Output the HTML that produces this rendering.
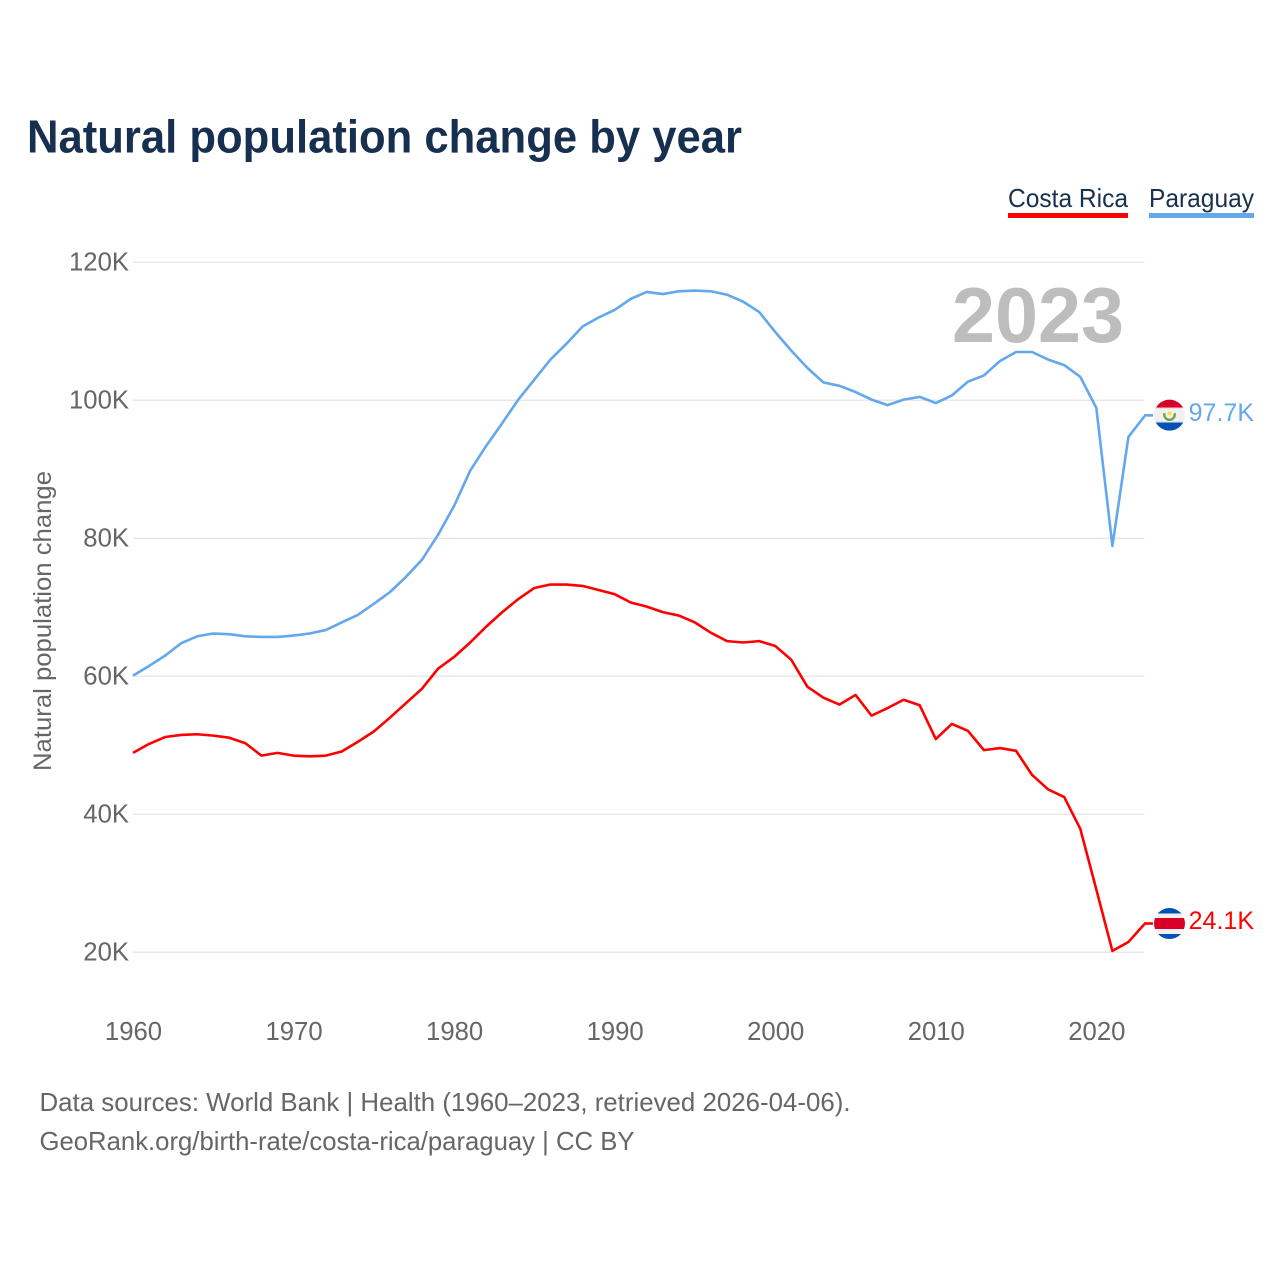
<!DOCTYPE html>
<html lang="en">
<head>
<meta charset="utf-8">
<title>Natural population change by year</title>
<style>
  html, body { margin: 0; padding: 0; background: #fff; }
  svg { display: block; font-family: "Liberation Sans", sans-serif; }
</style>
</head>
<body>
<svg id="chart" xmlns="http://www.w3.org/2000/svg" width="1280" height="1280" viewBox="0 0 1280 1280">
  <rect x="0" y="0" width="1280" height="1280" fill="#ffffff"/>
  <text x="27" y="152.5" font-size="46" font-weight="700" fill="#18304f" textLength="715" lengthAdjust="spacingAndGlyphs">Natural population change by year</text>

  <g>
    <text x="1008" y="207" font-size="26" fill="#18304f" textLength="120" lengthAdjust="spacingAndGlyphs">Costa Rica</text>
    <rect x="1008" y="213" width="120" height="5" fill="#ff0000"/>
  </g>
  <g>
    <text x="1149" y="207" font-size="26" fill="#18304f" textLength="105" lengthAdjust="spacingAndGlyphs">Paraguay</text>
    <rect x="1149" y="213" width="105" height="5" fill="#63a7ec"/>
  </g>

  <g id="grid"></g>
  <g id="yticks"></g>
  <g id="xticks"></g>

  <text transform="translate(51 621) rotate(-90)" text-anchor="middle" font-size="25" fill="#666666" textLength="300" lengthAdjust="spacingAndGlyphs">Natural population change</text>

  <text id="year-overlay" x="1124" y="342" text-anchor="end" font-size="78" font-weight="700" fill="#bdbdbd" textLength="172" lengthAdjust="spacingAndGlyphs">2023</text>

  <g id="series"></g>
  <g id="endmarks"></g>

  <text x="39.5" y="1111" font-size="26" fill="#666666" textLength="811" lengthAdjust="spacingAndGlyphs">Data sources: World Bank | Health (1960–2023, retrieved 2026-04-06).</text>
  <text x="39.5" y="1150" font-size="26" fill="#666666" textLength="595" lengthAdjust="spacingAndGlyphs">GeoRank.org/birth-rate/costa-rica/paraguay | CC BY</text>
</svg>

<script>
var firstYear = 1960;
var lastYear = 2023;
var yTickValues = [20, 40, 60, 80, 100, 120];
var yTickLabels = ["20K", "40K", "60K", "80K", "100K", "120K"];
var xTickYears = [1960, 1970, 1980, 1990, 2000, 2010, 2020];
var xTickLabels = ["1960", "1970", "1980", "1990", "2000", "2010", "2020"];

var costaRicaValues = [
  48.9, 50.2, 51.2, 51.5, 51.6, 51.4, 51.1, 50.3, 48.5, 48.9,
  48.5, 48.4, 48.5, 49.1, 50.5, 52.0, 54.0, 56.1, 58.2, 61.1,
  62.8, 64.9, 67.2, 69.3, 71.2, 72.8, 73.3, 73.3, 73.1, 72.5,
  71.9, 70.7, 70.1, 69.3, 68.8, 67.8, 66.3, 65.1, 64.9, 65.1,
  64.4, 62.4, 58.5, 56.9, 55.9, 57.3, 54.3, 55.4, 56.6, 55.8,
  50.9, 53.1, 52.1, 49.3, 49.6, 49.2, 45.7, 43.6, 42.5, 37.9,
  29.1, 20.2, 21.5, 24.1
];
var paraguayValues = [
  60.1, 61.5, 63.0, 64.8, 65.8, 66.2, 66.1, 65.8, 65.7, 65.7,
  65.9, 66.2, 66.7, 67.8, 68.9, 70.5, 72.2, 74.4, 76.9, 80.5,
  84.7, 89.8, 93.4, 96.7, 100.1, 103.0, 105.9, 108.2, 110.7, 112.0,
  113.1, 114.7, 115.7, 115.4, 115.8, 115.9, 115.8, 115.3, 114.3, 112.8,
  109.9, 107.2, 104.7, 102.6, 102.1, 101.2, 100.1, 99.3, 100.1, 100.5,
  99.6, 100.7, 102.7, 103.6, 105.7, 107.0, 107.0, 105.9, 105.1, 103.4,
  98.9, 78.9, 94.7, 97.7
];
var costaRicaEndLabel = "24.1K";
var paraguayEndLabel = "97.7K";

var NS = "http://www.w3.org/2000/svg";
var plotLeft = 133, plotRight = 1144.5;
var plotTop = 262.3, plotBottom = 952.3;

function xScale(year) {
  return plotLeft + (year - firstYear) * (plotRight - plotLeft) / (lastYear - firstYear);
}
function yScale(v) {
  return plotBottom - (v - 20) * (plotBottom - plotTop) / 100;
}
function make(tag, attrs, parent) {
  var el = document.createElementNS(NS, tag);
  for (var k in attrs) el.setAttribute(k, attrs[k]);
  parent.appendChild(el);
  return el;
}

var gridG = document.getElementById("grid");
var yG = document.getElementById("yticks");
yTickValues.forEach(function (v, i) {
  var line = make("line", { x1: plotLeft, x2: plotRight, y1: yScale(v), y2: yScale(v), stroke: "#e8e8e8", "stroke-width": 1.5 }, gridG);
  
  
  var t = make("text", { x: 129, y: yScale(v) + 8, "text-anchor": "end", "font-size": 25.7, fill: "#666666" }, yG);
  
  
  t.textContent = yTickLabels[i];
});

var xG = document.getElementById("xticks");
xTickYears.forEach(function (yr, i) {
  var t = make("text", { x: xScale(yr) + 0.5, y: 1040, "text-anchor": "middle", "font-size": 25.7, fill: "#666666" }, xG);
  
  
  t.textContent = xTickLabels[i];
});

function linePath(values) {
  return values.map(function (v, i) {
    return (i ? "L" : "M") + xScale(firstYear + i).toFixed(2) + " " + yScale(v).toFixed(2);
  }).join(" ");
}

var seriesG = document.getElementById("series");
var paraguayLine = make("path", { d: linePath(paraguayValues), fill: "none", stroke: "#63a7ec", "stroke-width": 2.6, "stroke-linejoin": "round" }, seriesG);


var costaRicaLine = make("path", { d: linePath(costaRicaValues), fill: "none", stroke: "#ff0000", "stroke-width": 2.6, "stroke-linejoin": "round" }, seriesG);



var endG = document.getElementById("endmarks");
var flagCx = 1169.5, flagR = 15.5;

function addClip(id, cy) {
  var clip = make("clipPath", { id: id }, endG);
  make("circle", { cx: flagCx, cy: cy, r: flagR }, clip);
}
function addBands(parent, clipId, top, bands) {
  var g = make("g", { "clip-path": "url(#" + clipId + ")" }, parent);
  var cursor = top;
  bands.forEach(function (b) {
    make("rect", { x: flagCx - flagR, y: cursor, width: flagR * 2, height: b[0], fill: b[1] }, g);
    cursor += b[0];
  });
  return g;
}

/* Paraguay end marker */
var pyY = yScale(paraguayValues[paraguayValues.length - 1]);
var pyConn = make("line", { x1: plotRight - 0.5, x2: 1153, y1: pyY - 0.8, y2: pyY - 0.8, stroke: "#63a7ec", "stroke-width": 2.6 }, endG);


addClip("py-clip", pyY - 1);
var pyFlag = make("g", {}, endG);


addBands(pyFlag, "py-clip", pyY - 17, [[8.4, "#d80027"], [1, "#f5c6c6"], [13, "#f0f0f0"], [1, "#c4d2ee"], [9.6, "#0052b4"]]);
make("path", { d: "M" + (flagCx - 5) + " " + (pyY - 3) + " a5.2 5.2 0 1 0 10 0", fill: "none", stroke: "#6da544", "stroke-width": 2.4 }, pyFlag);
make("circle", { cx: flagCx, cy: pyY - 2.8, r: 2, fill: "#ffda44" }, pyFlag);
var pyLabel = make("text", { x: 1254, y: pyY + 5, "text-anchor": "end", "font-size": 25, fill: "#63a7ec" }, endG);


pyLabel.textContent = paraguayEndLabel;

/* Costa Rica end marker */
var crY = yScale(costaRicaValues[costaRicaValues.length - 1]);
var crConn = make("line", { x1: plotRight - 0.5, x2: 1153, y1: crY - 0.5, y2: crY - 0.5, stroke: "#ff0000", "stroke-width": 2.6 }, endG);


addClip("cr-clip", crY - 0.5);
var crFlag = make("g", {}, endG);


addBands(crFlag, "cr-clip", crY - 16.5, [[6, "#0052b4"], [4.5, "#f0f0f0"], [11, "#d80027"], [5, "#f0f0f0"], [6, "#0052b4"]]);
var crLabel = make("text", { x: 1254, y: crY + 5, "text-anchor": "end", "font-size": 25, fill: "#ff0000" }, endG);


crLabel.textContent = costaRicaEndLabel;
</script>
</body>
</html>
